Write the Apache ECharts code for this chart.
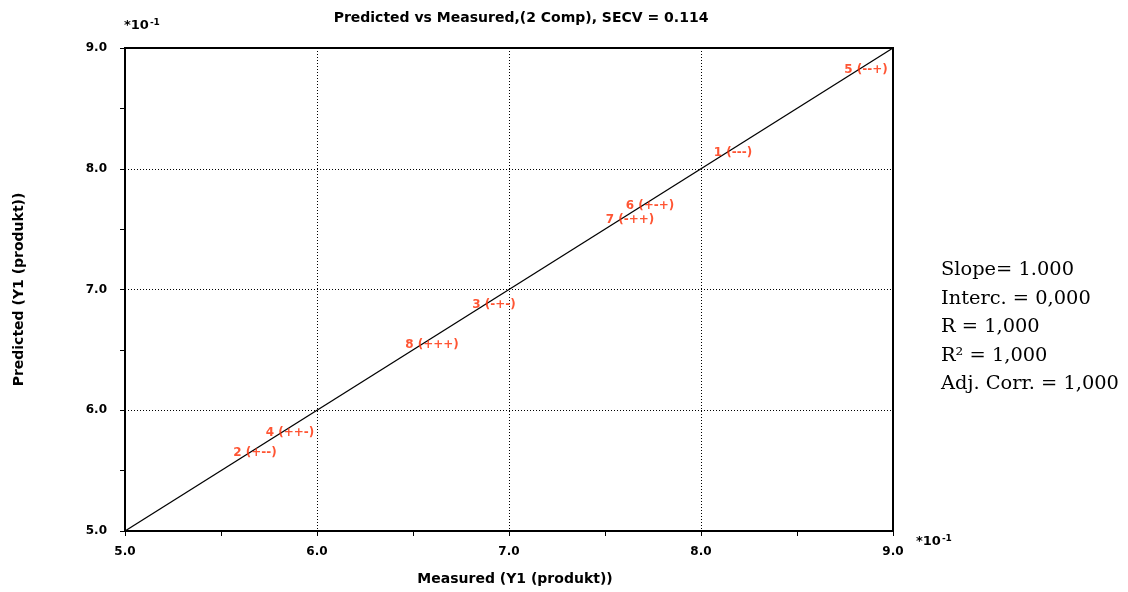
<!DOCTYPE html>
<html><head><meta charset="utf-8">
<script src="https://cdn.jsdelivr.net/npm/echarts@6/dist/echarts.min.js"></script>
<style>html,body{margin:0;padding:0;background:#fff}#c{width:1128px;height:592px}</style>
</head><body><div id="c"></div>
<script>
const sampleLabels = ['1 (---)','2 (+--)','3 (-+-)','4 (++-)','5 (--+)','6 (+-+)','7 (-++)','8 (+++)'];
const measured  = [8.167, 5.677, 6.922, 5.859, 8.859, 7.734, 7.630, 6.599];
const predicted = [8.130, 5.646, 6.872, 5.812, 8.818, 7.692, 7.576, 6.540];
const targetLine = [[5.0, 5.0], [9.0, 9.0]];
const axisMin = 5.0, axisMax = 9.0, axisStep = 1.0;
const statsLines = ['Slope= 1.000','Interc. = 0,000','R = 1,000','R\u00B2 = 1,000','Adj. Corr. = 1,000'];

const font = 'DejaVu Sans';
const chart = echarts.init(document.getElementById('c'));
const pts = measured.map((m,i)=>({value:[m, predicted[i]], name: sampleLabels[i]}));
const axisCommon = {
  type:'value', min:axisMin, max:axisMax, interval:axisStep,
  axisLine:{show:true, onZero:false, lineStyle:{color:'#000', width:2}},
  axisTick:{show:true, inside:false, length:5, lineStyle:{color:'#000', width:1}},
  minorTick:{show:true, splitNumber:2, length:5, lineStyle:{color:'#000', width:1}},
  splitLine:{show:true, lineStyle:{color:'#000', width:1, type:[1,2]}},
  axisLabel:{color:'#000', fontFamily:font, fontWeight:'bold', fontSize:12, formatter:v=>v.toFixed(1)}
};
const expRich = {
  a:{fontFamily:font, fontWeight:'bold', fontSize:13, fill:'#000'},
  s:{fontFamily:font, fontWeight:'bold', fontSize:9, fill:'#000', verticalAlign:'top', padding:[0,0,7,1]}
};
chart.setOption({
  animation:false,
  title:{text:'Predicted vs Measured,(2 Comp), SECV = 0.114', left:516, textAlign:'center', top:6,
    textStyle:{fontFamily:font, fontWeight:'bold', fontSize:14, color:'#000'}},
  grid:{left:125, right:235, top:48, bottom:61, show:true, borderColor:'#000', borderWidth:2},
  xAxis:Object.assign({}, axisCommon, {
    name:'Measured (Y1 (produkt))', nameLocation:'middle', nameGap:41,
    nameTextStyle:{fontFamily:font, fontWeight:'bold', fontSize:14, color:'#000', padding:[0,0,0,12]},
    axisLabel:Object.assign({}, axisCommon.axisLabel, {margin:15})
  }),
  yAxis:Object.assign({}, axisCommon, {
    name:'Predicted (Y1 (produkt))', nameLocation:'middle', nameGap:99,
    nameTextStyle:{fontFamily:font, fontWeight:'bold', fontSize:14, color:'#000'},
    axisLabel:Object.assign({}, axisCommon.axisLabel, {margin:18})
  }),
  graphic:[
    {type:'text', left:124, top:18, style:{text:'{a|*10}{s|-1}', rich:expRich}},
    {type:'text', left:916, top:534, style:{text:'{a|*10}{s|-1}', rich:expRich}},
    {type:'text', left:941, top:256, style:{text:statsLines.join('\n'), fontFamily:'DejaVu Serif',
      fontSize:19.4, lineHeight:28.5, fill:'#000'}}
  ],
  series:[
    {type:'line', data:targetLine, symbol:'none', lineStyle:{color:'#000', width:1.3}, silent:true, z:3},
    {type:'scatter', data:pts, symbolSize:1, itemStyle:{color:'rgba(0,0,0,0)'}, z:5,
      label:{show:true, position:'inside', formatter:p=>p.name, color:'#ff2a00',
        fontFamily:font, fontWeight:'bold', fontSize:12}}
  ]
});
</script></body></html>
